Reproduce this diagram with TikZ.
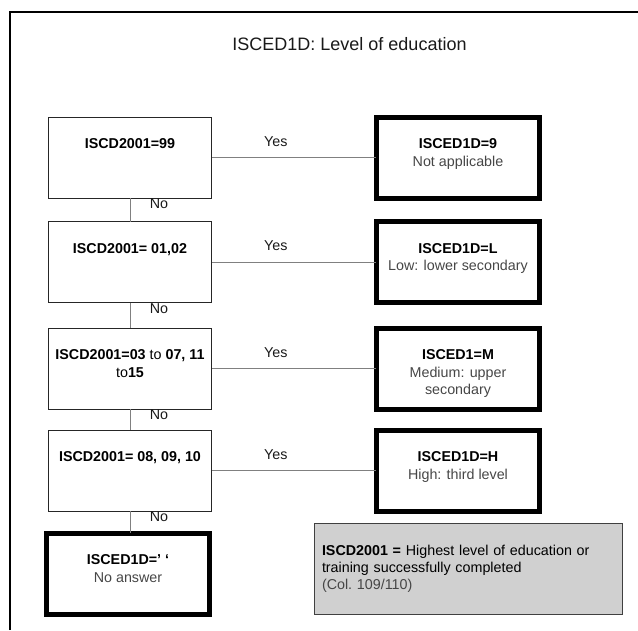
\documentclass[tikz,border=0pt]{standalone}
\usepackage{fontspec}
\setmainfont{Liberation Sans}
\usepackage{xcolor}
\usepackage{tikz}
\definecolor{grisfond}{RGB}{208,208,208}
\definecolor{grislien}{RGB}{128,128,128}
\definecolor{gristexte}{RGB}{70,70,70}

\begin{document}
\begin{tikzpicture}[x=1pt,y=-1pt]
% Styles (MODIFIABLES)
\tikzstyle{cadre}=[line width=2pt]
\tikzstyle{lien}=[draw=grislien,line width=1pt]
\tikzstyle{test}=[rectangle,draw=black!85,line width=1pt,minimum width=163.5pt,minimum height=81pt,inner sep=0pt,outer sep=0pt]
\tikzstyle{resultat}=[test,draw=black,line width=5pt]
\tikzstyle{texte}=[anchor=north,inner sep=0pt,align=center,font=\fontsize{14.3pt}{17.5pt}\selectfont]
\tikzstyle{texteR}=[texte,text=gristexte]
\tikzstyle{etiquette}=[inner sep=0pt,font=\fontsize{14.3pt}{17.5pt}\selectfont,text=black!90]
\tikzstyle{oui}=[etiquette,pos=0.39,yshift=16pt]
\tikzstyle{non}=[etiquette,at start,xshift=29pt,yshift=-6pt]
\tikzstyle{note}=[rectangle,fill=grisfond,draw=black!75,line width=1pt,minimum width=308pt,minimum height=91pt,text width=292pt,inner sep=8pt,align=left,font=\fontsize{14.3pt}{17pt}\selectfont]
\tikzstyle{titre}=[font=\fontsize{18pt}{22pt}\selectfont,text=black!90]
% Dimensions (MODIFIABLES)
\def\ColonneTest{130}
\def\ColonneResultat{458}
\def\LigneA{157.5}
\def\LigneB{262}
\def\LigneC{368.5}
\def\LigneD{470.5}
\def\LigneE{573.5}
\def\DecalageTexte{21.5pt}
% Cadre et titre
\useasboundingbox (0,0) rectangle (638,630);
\draw[cadre] (10,630) -- (10,12.3) -- (638,12.3);
\node[titre] (Titre) at (349.5,44) {ISCED1D: Level of education};
% Noeuds (tests a gauche)
\node[test] (T1) at (\ColonneTest,\LigneA) {};
\node[texte] (T1t) at ([yshift=-\DecalageTexte]T1.north) {\textbf{ISCD2001=99}};
\node[test] (T2) at (\ColonneTest,\LigneB) {};
\node[texte] (T2t) at ([yshift=-\DecalageTexte]T2.north) {\textbf{ISCD2001= 01,02}};
\node[test] (T3) at (\ColonneTest,\LigneC) {};
\node[texte] (T3t) at ([yshift=-\DecalageTexte]T3.north) {\textbf{ISCD2001=03} to \textbf{07, 11}\\to\textbf{15}};
\node[test] (T4) at (\ColonneTest,\LigneD) {};
\node[texte] (T4t) at ([yshift=-\DecalageTexte]T4.north) {\textbf{ISCD2001= 08, 09, 10}};
\node[resultat] (T5) at (128,\LigneE) {};
\node[texteR] (T5t) at ([yshift=-\DecalageTexte]T5.north) {{\color{black}\bfseries ISCED1D=' `}\\No answer};
% Noeuds (resultats a droite)
\node[resultat] (R1) at (\ColonneResultat,\LigneA) {};
\node[texteR] (R1t) at ([yshift=-\DecalageTexte]R1.north) {{\color{black}\bfseries ISCED1D=9}\\Not applicable};
\node[resultat] (R2) at (\ColonneResultat,\LigneB) {};
\node[texteR] (R2t) at ([yshift=-\DecalageTexte]R2.north) {{\color{black}\bfseries ISCED1D=L}\\Low: lower secondary};
\node[resultat] (R3) at (\ColonneResultat,\LigneC) {};
\node[texteR] (R3t) at ([yshift=-\DecalageTexte]R3.north) {{\color{black}\bfseries ISCED1=M}\\Medium: upper\\secondary};
\node[resultat] (R4) at (\ColonneResultat,\LigneD) {};
\node[texteR] (R4t) at ([yshift=-\DecalageTexte]R4.north) {{\color{black}\bfseries ISCED1D=H}\\High: third level};
\node[note] (Note) at (468,568.5) {\textbf{ISCD2001 =} Highest level of education or\\training successfully completed\\\textcolor{gristexte}{(Col.\ 109/110)}};
% Arcs
\draw[lien] (T1) -- (R1) node[oui] (O1) {Yes};
\draw[lien] (T2) -- (R2) node[oui] (O2) {Yes};
\draw[lien] (T3) -- (R3) node[oui] (O3) {Yes};
\draw[lien] (T4) -- (R4) node[oui] (O4) {Yes};
\draw[lien] (T1) -- (T2) node[non] (N1) {No};
\draw[lien] (T2) -- (T3) node[non] (N2) {No};
\draw[lien] (T3) -- (T4) node[non] (N3) {No};
\draw[lien] (T4) -- (T4 |- T5.north) node[non] (N4) {No};
\end{tikzpicture}
\end{document}
